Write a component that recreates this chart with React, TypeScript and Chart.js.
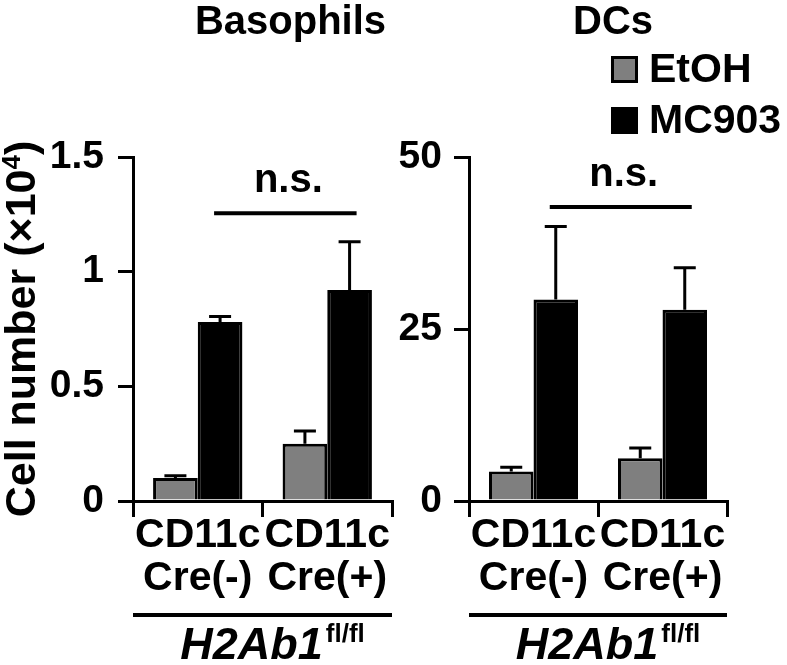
import React, { useEffect, useRef } from 'react';
import { Chart, registerables } from 'chart.js';

Chart.register(...registerables);

// ---- data ----
const categories = [['CD11c', 'Cre(-)'], ['CD11c', 'Cre(+)']];
const seriesNames = ['EtOH', 'MC903'];
const seriesColors = ['#7f7f7f', '#000000'];

const basoEtOH = [0.1, 0.25];
const basoEtOHErr = [0.01, 0.055];
const basoMC903 = [0.78, 0.92];
const basoMC903Err = [0.025, 0.21];
const basoTicks = [0, 0.5, 1, 1.5];
const basoSigLevel = 1.255;

const dcEtOH = [4.3, 6.2];
const dcEtOHErr = [0.6, 1.5];
const dcMC903 = [29.3, 27.8];
const dcMC903Err = [10.6, 6.1];
const dcTicks = [0, 25, 50];
const dcSigLevel = 42.75;

const panelTitles = ['Basophils', 'DCs'];
const yTitle = 'Cell number (\u00d710';
const yTitleSup = '4';
const genotype = 'H2Ab1';
const genotypeSup = 'fl/fl';
const sigText = 'n.s.';

const FONT = '"Liberation Sans", Arial, Helvetica, sans-serif';

type PanelCfg = {
  etoh: number[]; etohErr: number[]; mc: number[]; mcErr: number[];
  ticks: number[]; sig: number; title: string;
  yAxisWidth: number; padRight: number; tickPad: number;
  titleDx: number; showYTitle: boolean; showLegend: boolean;
};

function makePlugin(cfg: PanelCfg) {
  return {
    id: 'decor',
    afterDatasetsDraw(chart: any) {
      const ctx = chart.ctx as CanvasRenderingContext2D;
      const ys = chart.scales.y;
      const area = chart.chartArea;
      ctx.save();
      ctx.strokeStyle = '#000';
      ctx.fillStyle = '#000';
      ctx.lineCap = 'butt';
      // error bars (upward only)
      chart.data.datasets.forEach((ds: any, i: number) => {
        const meta = chart.getDatasetMeta(i);
        meta.data.forEach((bar: any, j: number) => {
          const v = ds.data[j];
          const e = ds.errors[j];
          const yb = ys.getPixelForValue(v);
          const yt = ys.getPixelForValue(v + e);
          ctx.lineWidth = 3;
          ctx.beginPath();
          ctx.moveTo(bar.x, yb);
          ctx.lineTo(bar.x, yt);
          ctx.moveTo(bar.x - 11, yt);
          ctx.lineTo(bar.x + 11, yt);
          ctx.stroke();
        });
      });
      // significance line
      const m1 = chart.getDatasetMeta(1);
      const x1 = m1.data[0].x - 6;
      const x2 = m1.data[1].x + 7;
      const ySig = ys.getPixelForValue(cfg.sig);
      ctx.lineWidth = 4;
      ctx.beginPath();
      ctx.moveTo(x1, ySig);
      ctx.lineTo(x2, ySig);
      ctx.stroke();
      ctx.font = `bold 40px ${FONT}`;
      ctx.textAlign = 'center';
      ctx.textBaseline = 'alphabetic';
      ctx.fillText(sigText, (x1 + x2) / 2 + 3, ySig - 21);

      // panel title
      const cx = (area.left + area.right) / 2;
      ctx.font = `bold 40px ${FONT}`;
      ctx.fillText(cfg.title, cx + cfg.titleDx, 34);

      // genotype underline + label
      const yLine = area.bottom + 114;
      ctx.lineWidth = 4;
      ctx.beginPath();
      ctx.moveTo(area.left, yLine);
      ctx.lineTo(area.right, yLine);
      ctx.stroke();
      ctx.font = `italic bold 45px ${FONT}`;
      const w1 = ctx.measureText(genotype).width;
      ctx.font = `bold 26px ${FONT}`;
      const w2 = ctx.measureText(genotypeSup).width;
      const start = cx + 10 - (w1 + w2 + 3) / 2;
      ctx.textAlign = 'left';
      ctx.font = `italic bold 45px ${FONT}`;
      ctx.fillText(genotype, start, yLine + 44);
      ctx.font = `bold 26px ${FONT}`;
      ctx.fillText(genotypeSup, start + w1 + 3, yLine + 27);

      // y axis title
      if (cfg.showYTitle) {
        ctx.save();
        ctx.translate(35, (area.top + area.bottom) / 2);
        ctx.rotate(-Math.PI / 2);
        ctx.font = `bold 43px ${FONT}`;
        const a = ctx.measureText(yTitle).width;
        const c = ctx.measureText(')').width;
        ctx.font = `bold 26px ${FONT}`;
        const b = ctx.measureText(yTitleSup).width;
        const tot = a + b + c;
        let x = -tot / 2;
        ctx.textAlign = 'left';
        ctx.font = `bold 43px ${FONT}`;
        ctx.fillText(yTitle, x, 0);
        x += a;
        ctx.font = `bold 26px ${FONT}`;
        ctx.fillText(yTitleSup, x, -15);
        x += b;
        ctx.font = `bold 43px ${FONT}`;
        ctx.fillText(')', x, 0);
        ctx.restore();
      }

      // legend
      if (cfg.showLegend) {
        const datasets = chart.data.datasets;
        datasets.forEach((ds: any, i: number) => {
          const bx = 216;
          const by = 56 + i * 51;
          ctx.fillStyle = ds.backgroundColor;
          ctx.fillRect(bx, by, 27, 27);
          ctx.lineWidth = 3;
          ctx.strokeStyle = '#000';
          ctx.strokeRect(bx + 1.5, by + 1.5, 24, 24);
          ctx.fillStyle = '#000';
          ctx.font = `bold 41px ${FONT}`;
          ctx.textAlign = 'left';
          ctx.fillText(ds.label, bx + 38, by + 26);
        });
      }
      ctx.restore();
    },
  };
}

function makeConfig(cfg: PanelCfg): any {
  const step = cfg.ticks[1] - cfg.ticks[0];
  const max = cfg.ticks[cfg.ticks.length - 1];
  return {
    type: 'bar',
    data: {
      labels: categories,
      datasets: [
        {
          label: seriesNames[0],
          data: cfg.etoh,
          errors: cfg.etohErr,
          backgroundColor: seriesColors[0],
          borderColor: '#000',
          borderWidth: 3,
          borderSkipped: 'start',
          categoryPercentage: 0.69,
          barPercentage: 1.0,
        },
        {
          label: seriesNames[1],
          data: cfg.mc,
          errors: cfg.mcErr,
          backgroundColor: seriesColors[1],
          borderColor: '#000',
          borderWidth: 3,
          borderSkipped: 'start',
          categoryPercentage: 0.69,
          barPercentage: 1.0,
        },
      ],
    },
    options: {
      responsive: false,
      animation: false,
      events: [],
      layout: { padding: { top: 157, right: cfg.padRight, left: 0, bottom: 0 } },
      plugins: {
        legend: { display: false },
        title: { display: false },
        tooltip: { enabled: false },
      },
      scales: {
        x: {
          offset: true,
          grid: {
            offset: true,
            drawOnChartArea: false,
            drawTicks: true,
            tickLength: 16,
            lineWidth: 3,
            color: '#000',
          },
          border: { display: true, width: 3, color: '#000' },
          ticks: {
            color: '#000',
            font: { family: FONT, size: 41, weight: 'bold', lineHeight: 1.05 },
            padding: -3,
            maxRotation: 0,
            minRotation: 0,
            autoSkip: false,
          },
          afterFit: (s: any) => { s.height = 164; },
        },
        y: {
          min: 0,
          max,
          afterBuildTicks: (s: any) => { s.ticks = cfg.ticks.map((v) => ({ value: v })); },
          grid: {
            drawOnChartArea: false,
            drawTicks: true,
            tickLength: 15,
            lineWidth: 3,
            color: '#000',
          },
          border: { display: true, width: 3, color: '#000' },
          ticks: {
            stepSize: step,
            color: '#000',
            font: { family: FONT, size: 39, weight: 'bold' },
            padding: cfg.tickPad,
            callback: (v: any) => String(v),
          },
          afterFit: (s: any) => { s.width = cfg.yAxisWidth; },
        },
      },
    },
    plugins: [makePlugin(cfg)],
  };
}

const leftCfg: PanelCfg = {
  etoh: basoEtOH, etohErr: basoEtOHErr, mc: basoMC903, mcErr: basoMC903Err,
  ticks: basoTicks, sig: basoSigLevel, title: panelTitles[0],
  yAxisWidth: 133, padRight: 8, tickPad: 14, titleDx: 28,
  showYTitle: true, showLegend: false,
};

const rightCfg: PanelCfg = {
  etoh: dcEtOH, etohErr: dcEtOHErr, mc: dcMC903, mcErr: dcMC903Err,
  ticks: dcTicks, sig: dcSigLevel, title: panelTitles[1],
  yAxisWidth: 74, padRight: 60, tickPad: 12, titleDx: 15,
  showYTitle: false, showLegend: true,
};

export default function App() {
  const leftRef = useRef<HTMLCanvasElement>(null);
  const rightRef = useRef<HTMLCanvasElement>(null);

  useEffect(() => {
    document.body.style.margin = '0';
    document.body.style.background = '#fff';
    const c1 = new Chart(leftRef.current as HTMLCanvasElement, makeConfig(leftCfg));
    const c2 = new Chart(rightRef.current as HTMLCanvasElement, makeConfig(rightCfg));
    return () => {
      c1.destroy();
      c2.destroy();
    };
  }, []);

  return (
    <div style={{ position: 'relative', width: 787, height: 665, background: '#fff', overflow: 'hidden' }}>
      <canvas ref={leftRef} width={400} height={665}
        style={{ position: 'absolute', left: 0, top: 0, width: 400, height: 665 }} />
      <canvas ref={rightRef} width={392} height={665}
        style={{ position: 'absolute', left: 395, top: 0, width: 392, height: 665 }} />
    </div>
  );
}
